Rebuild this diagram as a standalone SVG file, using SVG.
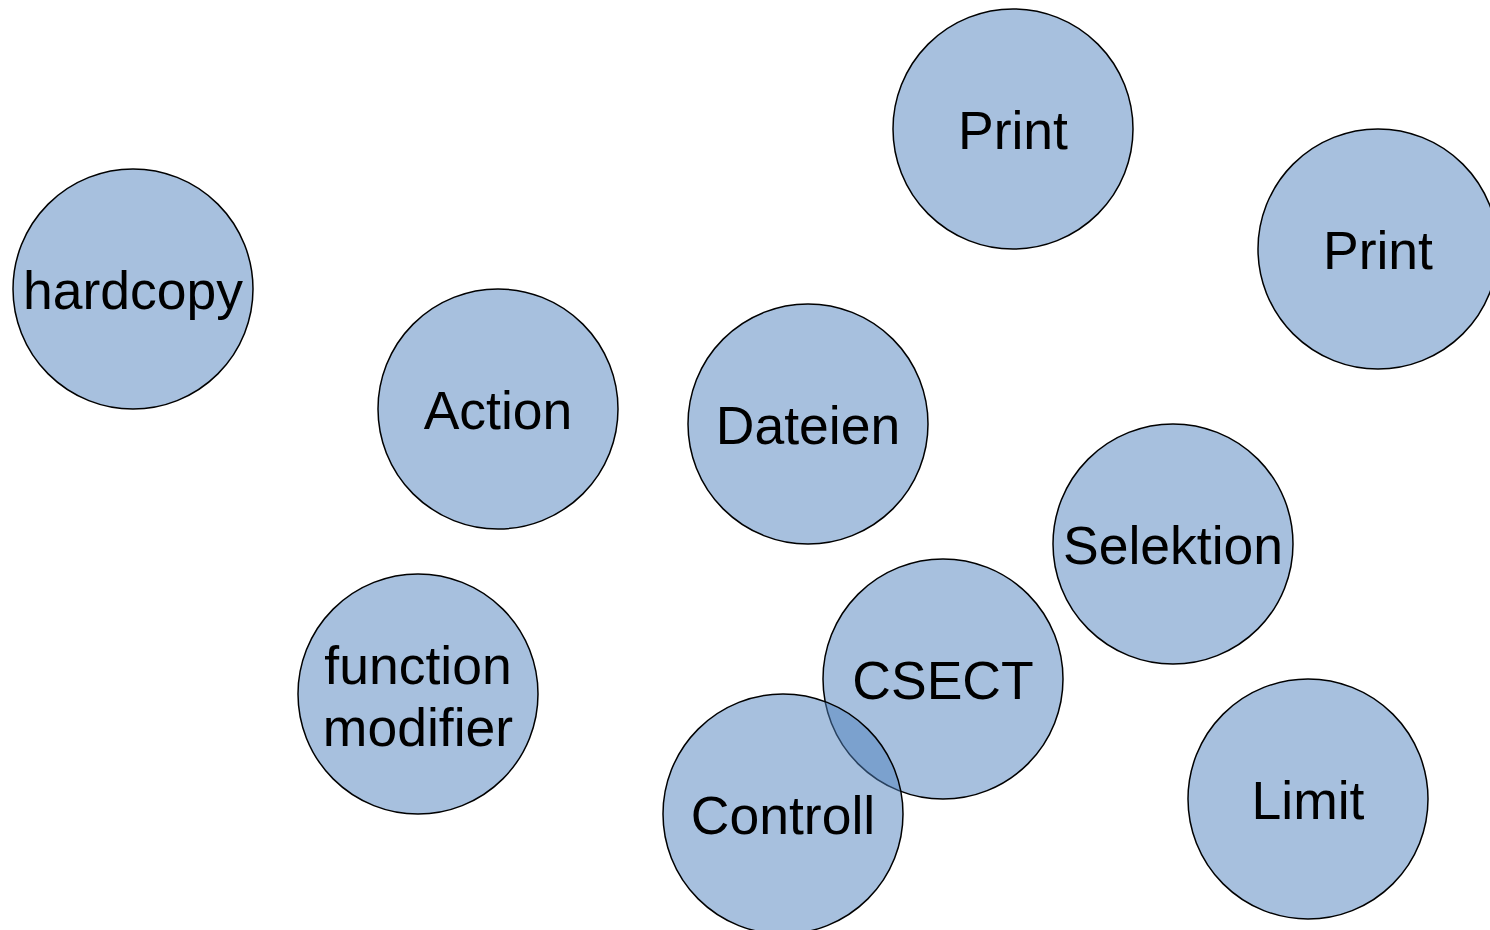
<svg xmlns="http://www.w3.org/2000/svg" width="1490" height="930" viewBox="0 0 1490 930">
  <style>
    .node circle { fill: #4F81BD; fill-opacity: 0.5; stroke: #000; stroke-width: 1.5; }
    .node text { font-family: "Liberation Sans", Arial, sans-serif; font-size: 53.5px; fill: #000; text-anchor: middle; }
  </style>
  <rect width="1490" height="930" fill="#fff"/>
  <g id="connectors"></g>
  <g id="print-top" class="node">
    <circle cx="1013" cy="129" r="120"/>
    <text x="1013" y="149">Print</text>
  </g>
  <g id="print-right" class="node">
    <circle cx="1378" cy="249" r="120"/>
    <text x="1378" y="269">Print</text>
  </g>
  <g id="hardcopy" class="node">
    <circle cx="133" cy="289" r="120"/>
    <text x="133" y="309">hardcopy</text>
  </g>
  <g id="action" class="node">
    <circle cx="498" cy="409" r="120"/>
    <text x="498" y="429">Action</text>
  </g>
  <g id="dateien" class="node">
    <circle cx="808" cy="424" r="120"/>
    <text x="808" y="444">Dateien</text>
  </g>
  <g id="selektion" class="node">
    <circle cx="1173" cy="544" r="120"/>
    <text x="1173" y="564">Selektion</text>
  </g>
  <g id="function-modifier" class="node">
    <circle cx="418" cy="694" r="120"/>
    <text x="418" y="684">function</text>
    <text x="418" y="746">modifier</text>
  </g>
  <g id="csect" class="node">
    <circle cx="943" cy="679" r="120"/>
    <text x="943" y="699">CSECT</text>
  </g>
  <g id="controll" class="node">
    <circle cx="783" cy="814" r="120"/>
    <text x="783" y="834">Controll</text>
  </g>
  <g id="limit" class="node">
    <circle cx="1308" cy="799" r="120"/>
    <text x="1308" y="819">Limit</text>
  </g>
</svg>
